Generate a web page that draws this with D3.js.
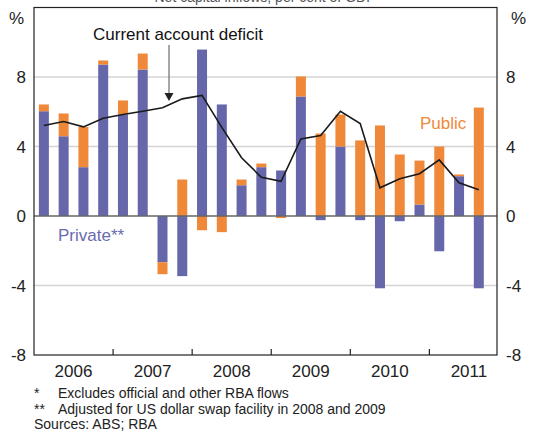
<!DOCTYPE html>
<html><head><meta charset="utf-8">
<script src="https://cdn.jsdelivr.net/npm/d3@7"></script>
<style>body{margin:0;background:#fff}svg{display:block;font-family:"Liberation Sans",Arial,sans-serif}</style>
</head><body><svg id="c" width="538" height="435"></svg>
<script>
const quarters = ["2006Q1","2006Q2","2006Q3","2006Q4","2007Q1","2007Q2","2007Q3","2007Q4","2008Q1","2008Q2","2008Q3","2008Q4","2009Q1","2009Q2","2009Q3","2009Q4","2010Q1","2010Q2","2010Q3","2010Q4","2011Q1","2011Q2","2011Q3"];
const privateFlows = [6.03,4.59,2.81,8.72,5.84,8.43,-2.66,-3.46,9.58,6.42,1.77,2.81,2.62,6.88,-0.24,4.0,-0.24,-4.16,-0.30,0.66,-2.03,2.29,-4.16];
const publicFlows  = [0.39,1.31,2.32,0.23,0.81,0.92,-0.69,2.10,-0.82,-0.93,0.33,0.21,-0.12,1.15,4.75,1.84,4.35,5.21,3.54,2.53,4.0,0.10,6.24];
const caDeficit    = [5.21,5.44,5.13,5.63,5.84,6.03,6.23,6.74,6.94,5.10,3.35,2.23,2.0,4.44,4.63,6.03,5.32,1.62,2.14,2.43,3.23,1.91,1.51];
const years = ["2006","2007","2008","2009","2010","2011"];
const yTicks = [-8,-4,0,4,8];

const svg = d3.select("#c");
const L=34, R=497, T=7.5, B=355;
const x = d3.scaleLinear().domain([-0.5,22.92]).range([L,R]);
const y = d3.scaleLinear().domain([-8,12]).range([B,T]);
const purple="#6667AB", orange="#F0883A";

// title (cut off at top, as in the reference)
svg.append("text").attr("x",265).attr("y",2).attr("text-anchor","middle")
  .attr("font-size",14).attr("fill","#555").text("Net capital inflows, per cent of GDP");

// gridlines
svg.append("g").selectAll("line").data([-4,4,8]).join("line")
  .attr("x1",L).attr("x2",R).attr("y1",d=>y(d)).attr("y2",d=>y(d))
  .attr("stroke","#d4d4d4").attr("stroke-width",1.5);

// bars
const rows = quarters.map((q,i)=>({i, private:privateFlows[i], public:publicFlows[i]}));
const stack = d3.stack().keys(["private","public"]).offset(d3.stackOffsetDiverging);
const series = stack(rows);
const colors = {private:purple, public:orange};
const bw = 10;
svg.append("g").selectAll("g").data(series).join("g").attr("fill",s=>colors[s.key])
  .selectAll("rect").data(s=>s).join("rect")
  .attr("x",d=>x(d.data.i)-bw/2).attr("width",bw)
  .attr("y",d=>y(Math.max(d[0],d[1]))).attr("height",d=>Math.abs(y(d[0])-y(d[1])));

// zero line
svg.append("line").attr("x1",L).attr("x2",R).attr("y1",y(0)).attr("y2",y(0))
  .attr("stroke","#666").attr("stroke-width",1.5);

// current account line
svg.append("path").datum(caDeficit)
  .attr("d",d3.line().x((d,i)=>x(i)).y(d=>y(d)))
  .attr("fill","none").attr("stroke","#1a1a1a").attr("stroke-width",1.6);

// frame
svg.append("rect").attr("x",L).attr("y",T).attr("width",R-L).attr("height",B-T)
  .attr("fill","none").attr("stroke","#222").attr("stroke-width",1.2);

// year ticks
const bounds = d3.range(1,6).map(k=>x(4*k-0.5));
svg.append("g").selectAll("line").data(bounds).join("line")
  .attr("x1",d=>d).attr("x2",d=>d).attr("y1",B).attr("y2",B-6)
  .attr("stroke","#222").attr("stroke-width",1.2);

// year labels
svg.append("g").selectAll("text").data(years).join("text")
  .attr("x",(d,k)=>(x(4*k-0.5)+x(4*k+3.5))/2)
  .attr("y",377).attr("text-anchor","middle").attr("font-size",17).attr("fill","#222").text(d=>d);

// y labels
const yl = svg.append("g").attr("font-size",17).attr("fill","#222");
yl.selectAll("text.l").data(yTicks).join("text").attr("class","l")
  .attr("x",26).attr("y",d=>y(d)+6).attr("text-anchor","end").text(d=>d);
yl.selectAll("text.r").data(yTicks).join("text").attr("class","r")
  .attr("x",506).attr("y",d=>y(d)+6).attr("text-anchor","start").text(d=>d);
yl.append("text").attr("x",9).attr("y",24).text("%");
yl.append("text").attr("x",511).attr("y",24).text("%");

// annotations
svg.append("text").attr("x",93).attr("y",40).attr("font-size",17).attr("fill","#111").text("Current account deficit");
svg.append("line").attr("x1",169).attr("x2",169).attr("y1",45).attr("y2",95).attr("stroke","#777").attr("stroke-width",1.3);
svg.append("path").attr("d","M164.5,93 L173.5,93 L169,101 Z").attr("fill","#222");
svg.append("text").attr("x",58).attr("y",241).attr("font-size",17).attr("fill","#6a6bb0").text("Private**");
svg.append("text").attr("x",420).attr("y",129).attr("font-size",17).attr("fill",orange).text("Public");

// footnotes
const fn = svg.append("g").attr("font-size",14).attr("fill","#222");
fn.append("text").attr("x",34).attr("y",398).text("*");
fn.append("text").attr("x",58).attr("y",398).text("Excludes official and other RBA flows");
fn.append("text").attr("x",34).attr("y",414).text("**");
fn.append("text").attr("x",58).attr("y",414).text("Adjusted for US dollar swap facility in 2008 and 2009");
fn.append("text").attr("x",34).attr("y",429).text("Sources: ABS; RBA");
</script></body></html>
